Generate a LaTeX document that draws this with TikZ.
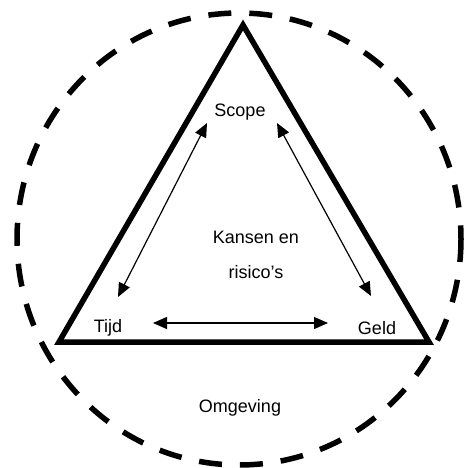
\documentclass[tikz,border=0pt]{standalone}
\usepackage{fontspec}
\setmainfont{Liberation Sans}
\usetikzlibrary{arrows.meta}

\begin{document}
\begin{tikzpicture}[
  x=1pt, y=-1pt,
  txt/.style={font=\fontsize{18}{22}\selectfont, inner sep=0pt},
  tri/.style={line width=5.5pt, miter limit=10},
  env/.style={line width=5.5pt, dash pattern=on 23pt off 18pt},
  link/.style={{Triangle[length=14pt,width=12pt]}-{Triangle[length=14pt,width=12pt]}, line width=1.2pt}
]
\useasboundingbox (0,0) rectangle (465,468);
\draw[env] (239,239) ellipse [x radius=222, y radius=226];
\draw[tri] (243,25) -- (59,342) -- (429,342) -- cycle;
\node[txt, anchor=base] (scope) at (240,117) {Scope};
\node[txt, anchor=base] (tijd) at (108,332) {Tijd};
\node[txt, anchor=base] (geld) at (377,334) {Geld};
\node[txt, anchor=base] (omgeving) at (240,412) {Omgeving};
\node[txt, font=\fontsize{18}{35}\selectfont, align=center] (kansen) at (256,255)
  {Kansen en\\risico’s};
\coordinate (st) at (207,123);
\coordinate (ts) at (118,297);
\coordinate (sg) at (277,123);
\coordinate (gs) at (371,296);
\coordinate (tg) at (153,323);
\coordinate (gt) at (328,323);
\draw[link] (st) -- (ts);
\draw[link] (sg) -- (gs);
\draw[link] (tg) -- (gt);
\end{tikzpicture}
\end{document}
